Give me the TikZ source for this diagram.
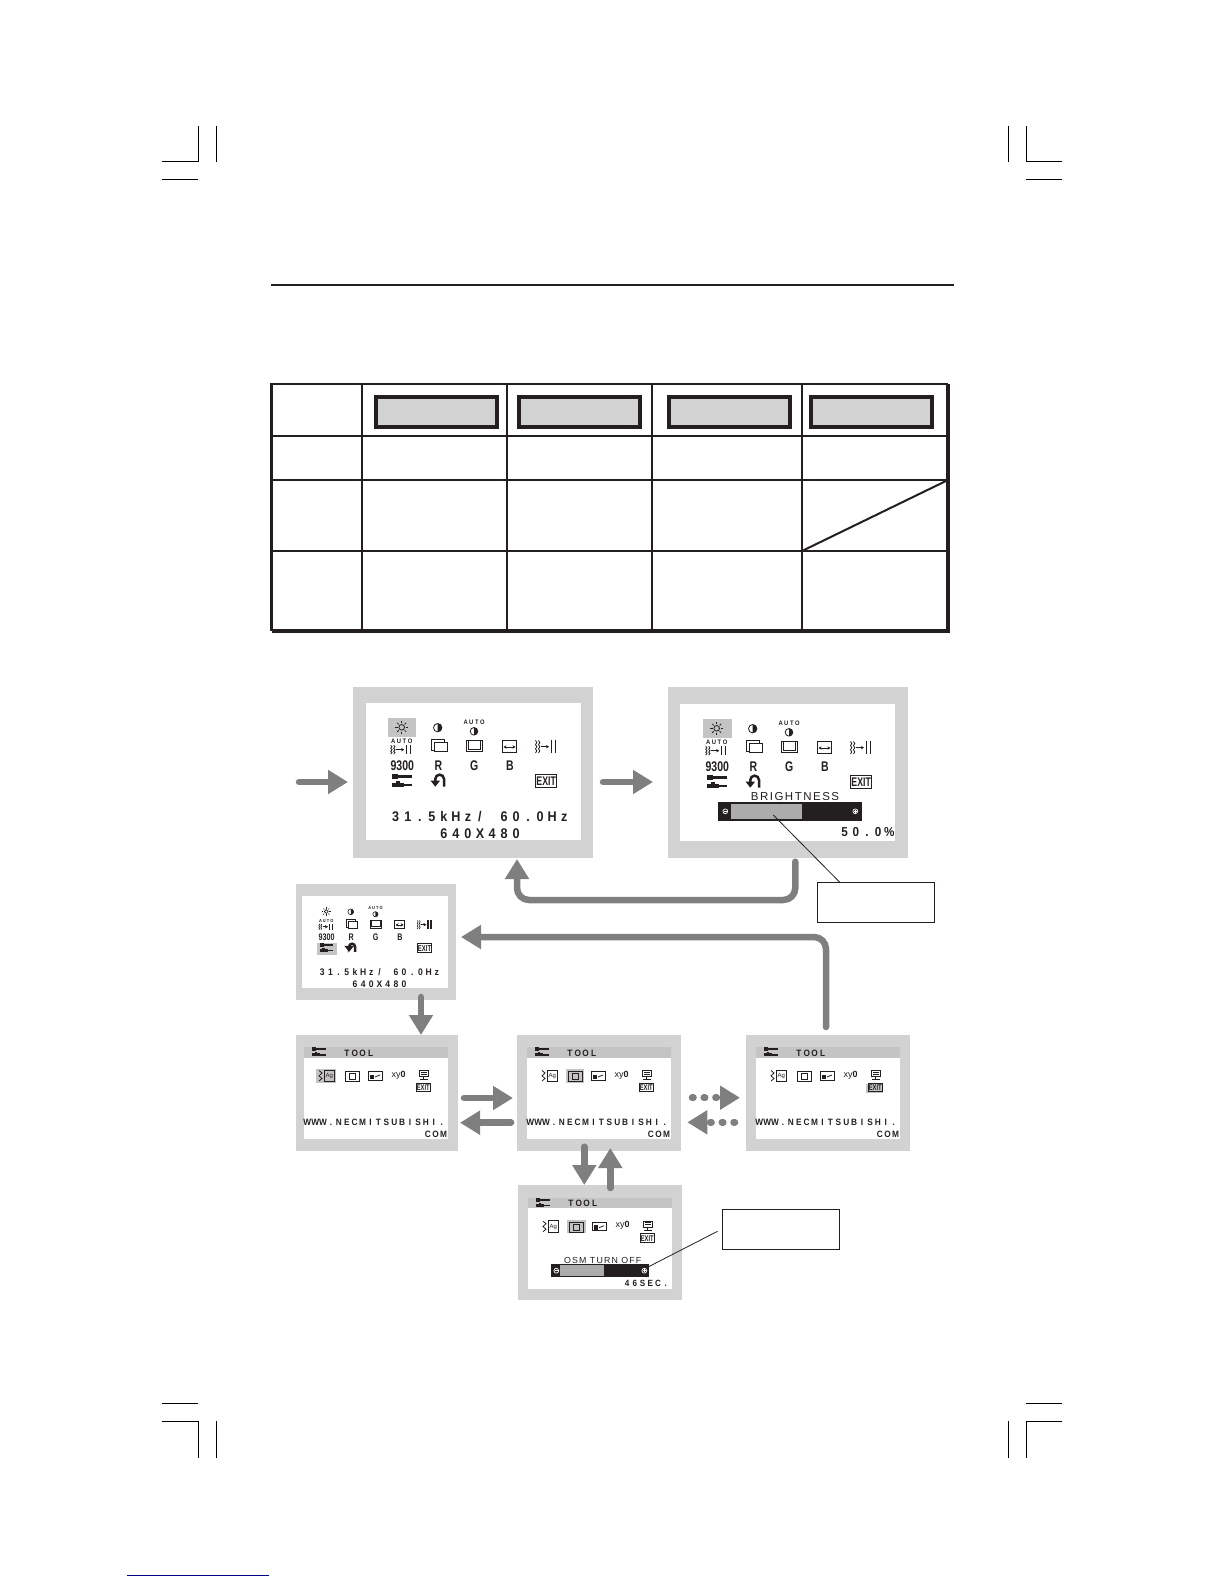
\documentclass[tikz,border=0pt]{standalone}
\usepackage{fontspec}
\usepackage{xcolor}
\usetikzlibrary{arrows.meta,positioning,calc}
\newfontfamily\osdfont[FakeStretch=.9]{Liberation Sans}
\newfontfamily\iconfont{Liberation Sans}
\newfontfamily\brightfont[LetterSpace=13]{Liberation Sans}
\definecolor{ink}{HTML}{231F20}
\definecolor{framegray}{HTML}{D2D2D2}
\definecolor{flowgray}{HTML}{7F7F7F}
\definecolor{hilite}{HTML}{C4C4C4}
\definecolor{barfill}{HTML}{ACACAC}
\definecolor{linkblue}{HTML}{00008B}

% the screen letters stand at a fixed pitch
\def\osdrun#1{\ifx#1\relax\else\makebox[.86em][c]{#1}\expandafter\osdrun\fi}
\newcommand{\osdpitch}[1]{\osdrun#1\relax}

% small drawings used on the screens
\newcommand{\sunicon}[2]{
	\draw[iconline] (#1,#2) circle (2.8pt);
	\foreach \a in {0,45,...,315}
		\draw[iconline] ([shift={(\a:4.2pt)}]#1,#2) -- ([shift={(\a:6.3pt)}]#1,#2);
}
\newcommand{\halfdisc}[3]{
	\draw[iconline] (#1,#2) circle (#3pt);
	\fill[ink] (#1,#2+#3) arc[start angle=-90,end angle=90,radius=#3pt] -- cycle;
}
\newcommand{\trackicon}[3]{
	\foreach \d in {-11,-8}
		\draw[iconline] (#1+\d,#2-#3) -- ++(1.3,#3/3) -- ++(-1.3,#3/3) -- ++(1.3,#3/3) -- ++(-1.3,#3/3) -- ++(1.3,#3/3) -- ++(-1.3,#3/3);
	\draw[iconline,-{Stealth[length=3pt,width=3.4pt]}] (#1-5.5,#2) -- (#1+2.5,#2);
	\draw[line width=1.4pt,ink] (#1+5,#2-#3) -- (#1+5,#2+#3);
	\draw[line width=1.4pt,ink] (#1+9,#2-#3) -- (#1+9,#2+#3);
}
\newcommand{\toolicon}[2]{
	\fill[ink] (#1-8,#2-5.6) rectangle (#1+10,#2-2.6);
	\fill[ink] (#1-9.5,#2-6.8) rectangle (#1-4,#2-1.4);
	\fill[ink] (#1-9.5,#2+2) rectangle (#1+2,#2+6);
	\fill[ink] (#1-6,#2) rectangle (#1-2,#2+2);
	\fill[ink] (#1+2,#2+3) rectangle (#1+10,#2+5);
}
\newcommand{\undoicon}[2]{
	\draw[line width=2.5pt,ink,-{Triangle[length=6pt,width=9pt]}] (#1+5.7,#2+6.5) -- (#1+5.7,#2-1) arc[start angle=0,end angle=180,radius=4.35pt] -- (#1-3,#2+6.7);
}
\newcommand{\exitbox}[3]{
	\node[exitmark] (#1) at (#2,#3) {EXIT};
}
\newcommand{\mainmenu}[1]{
	\sunicon{35.7}{24.3}
	\halfdisc{71.7}{24.7}{4.2}
	\node[autotext] (#1autoa) at (108,19.7) {\osdpitch{AUTO}};
	\halfdisc{108}{28.3}{3.8}
	\node[autotext] (#1autob) at (35.7,38.3) {\osdpitch{AUTO}};
	\trackicon{35.7}{46.7}{4.3}
	\draw[iconline] (65,36.3) rectangle (78,47);
	\draw[iconline,fill=white] (68,39) rectangle (81.3,48.7);
	\draw[iconline] (100,37) rectangle (116.7,48.7);
	\draw[iconline] (102,37) -- (102,46.5) -- (114.7,46.5) -- (114.7,37);
	\draw[iconline] (136.3,37.7) rectangle (150.7,49.3);
	\draw[iconline,{Stealth[length=3pt,width=3.4pt]}-{Stealth[length=3pt,width=3.4pt]}] (137.5,44) -- (149.5,44);
	\trackicon{180.5}{43.7}{6.3}
	\node[boldmark] (#1nine) at (36.3,62.7) {9300};
	\node[boldmark] (#1red) at (72.3,62.7) {R};
	\node[boldmark] (#1green) at (108.3,62.7) {G};
	\node[boldmark] (#1blue) at (144,62.7) {B};
	\toolicon{35.7}{77.7}
	\undoicon{72.3}{77}
	\exitbox{#1exit}{180.2}{78.2}
}
\newcommand{\freqrows}[1]{
	\node[osdbig] (#1freq) at (114,114) {\osdpitch{31.5kHz/~60.0Hz}};
	\node[osdbig] (#1res) at (114,131) {\osdpitch{640X480}};
}
\newcommand{\toolscreen}[1]{
	\fill[hilite] (0,0) rectangle (144,10.5);
	\begin{scope}[shift={(14.7,5)},scale=.7]
		\toolicon{0}{0}
	\end{scope}
	\node[osdsmall] (#1tool) at (54.7,6) {\osdpitch{TOOL}};
	\draw[iconline] (20.5,23) rectangle (30.3,34.7);
	\draw[iconline] (15,23.5) -- (18,26) -- (15,28.8) -- (18,31.5) -- (15,34);
	\node[tinytext] (#1ag) at (25.4,29) {Ag};
	\draw[iconline] (41,24.5) rectangle (55,34.5);
	\draw[iconline] (45,26.5) rectangle (51,32.5);
	\draw[iconline] (64,24.7) rectangle (78,33);
	\fill[ink] (66,27.5) rectangle (70,32);
	\draw[iconline] (71,30) -- (76,28);
	\node[xytext] (#1xy) at (94.7,28) {xy\textbf{0}};
	\draw[iconline] (115.5,23.5) rectangle (124,29.5);
	\draw[iconline] (117,25) -- (122.5,25) (117,27) -- (122.5,27);
	\draw[iconline] (119.8,29.5) -- (119.8,32) (116,32.5) -- (123.5,32.5);
	\begin{scope}[shift={(119.3,40.5)},scale=.66]
		\exitbox{#1exit}{0}{0}
	\end{scope}
}
\newcommand{\siteurl}[1]{
	\node[osdsmall] (#1url) at (70.5,75.7) {\osdpitch{WWW.NECMITSUBISHI.}};
	\node[osdsmall] (#1com) at (131.7,87.3) {\osdpitch{COM}};
}
\newcommand{\slidermark}[3]{
	\draw[white,line width=.7pt] (#1,#2) circle (2.4pt);
	\draw[white,line width=.6pt] (#1-1.4,#2) -- (#1+1.4,#2);
	\ifnum#3=1 \draw[white,line width=.6pt] (#1,#2-1.4) -- (#1,#2+1.4); \fi
}

\begin{document}
\begin{tikzpicture}[x=1pt,y=-1pt]
	\tikzstyle{every node} = [inner sep = 0, outer sep = 0, transform shape]
	\tikzstyle{osdframe} = [fill = framegray]
	\tikzstyle{osdscreen} = [fill = white, anchor = north west]
	\tikzstyle{iconline} = [line width = .8pt, draw = ink]
	\tikzstyle{osdbig} = [text = ink, font = \osdfont\bfseries\fontsize{14}{14}\selectfont]
	\tikzstyle{osdsmall} = [text = ink, font = \osdfont\bfseries\fontsize{9.2}{9.2}\selectfont]
	\tikzstyle{autotext} = [text = ink, font = \osdfont\bfseries\fontsize{6.5}{6.5}\selectfont]
	\tikzstyle{tinytext} = [text = ink, font = \iconfont\fontsize{6}{6}\selectfont]
	\tikzstyle{xytext} = [text = ink, font = \iconfont\fontsize{9}{9}\selectfont]
	\tikzstyle{boldmark} = [text = ink, xscale = .75, font = \iconfont\bfseries\fontsize{14}{14}\selectfont]
	\tikzstyle{exitmark} = [draw = ink, line width = .9pt, text = ink, xscale = .7, minimum width = 30pt, minimum height = 13pt, font = \iconfont\bfseries\fontsize{12.5}{12.5}\selectfont]
	\tikzstyle{headbox} = [draw = ink, line width = 4pt, fill = framegray, minimum width = 121pt, minimum height = 30pt]
	\tikzstyle{callout} = [draw = ink, line width = 1pt, fill = white, minimum width = 117pt, minimum height = 40pt]
	\tikzstyle{flow} = [draw = flowgray, line width = 6.5pt, line cap = round, -{Triangle[length = 20pt, width = 23pt]}]
	\tikzstyle{leader} = [draw = ink, line width = .8pt]
	\tikzstyle{crop} = [draw = black, line width = 1.2pt]
	\tikzstyle{tablerule} = [draw = ink, line width = 2pt]
	\useasboundingbox (0,0) rectangle (1224,1584);

	% crop marks
	\foreach \x/\w in {198.3/162,1026.3/1062} {
		\draw[crop] (\x,161.3) -- (\w,161.3);
		\draw[crop] (\w,179.3) -- (\x,179.3);
		\draw[crop] (\x,1403.3) -- (\w,1403.3);
		\draw[crop] (\x,1421.3) -- (\w,1421.3);
	}
	\foreach \x in {198.3,216.3,1008.3,1026.3} {
		\draw[crop] (\x,126) -- (\x,162);
		\draw[crop] (\x,1421) -- (\x,1458);
	}
	\draw[linkblue, line width = 1pt] (127,1575) -- (269,1575);

	% table
	\draw[ink, line width = 2pt] (271,285) -- (954,285);
	\foreach \y in {436,480,551} \draw[tablerule] (271,\y) -- (948,\y);
	\foreach \x in {362,507,652,802} \draw[tablerule] (\x,384) -- (\x,631);
	\draw[ink, line width = 2.6pt] (948,384) -- (271.5,384) -- (271.5,631);
	\draw[ink, line width = 3.4pt] (271.5,631) -- (948,631) -- (948,384);
	\draw[tablerule] (802,551) -- (948,480);
	\foreach \cx [count = \n] in {436.5,579.5,729,871}
		\node[headbox] (head\n) at (\cx,412) {};

	% the screens
	\node[osdframe, minimum width = 240pt, minimum height = 171pt] (mon1) at (473,772.5) {};
	\node[osdframe, minimum width = 240pt, minimum height = 171pt] (mon2) at (788,772.5) {};
	\node[osdframe, minimum width = 160pt, minimum height = 116pt] (mon3) at (376,942) {};
	\node[osdframe, minimum width = 162pt, minimum height = 116pt] (tool1) at (377,1093) {};
	\node[osdframe, minimum width = 164pt, minimum height = 116pt] (tool2) at (599,1093) {};
	\node[osdframe, minimum width = 164pt, minimum height = 116pt] (tool3) at (828,1093) {};
	\node[osdframe, minimum width = 164pt, minimum height = 115pt] (osm) at (600,1242.5) {};

	\node[osdscreen, minimum width = 215pt, minimum height = 137pt] (scr1) at (366,703) {};
	\node[osdscreen, minimum width = 215pt, minimum height = 137pt] (scr2) at (680,704) {};
	\node[osdscreen, minimum width = 146pt, minimum height = 92pt] (scr3) at (302,896) {};
	\node[osdscreen, minimum width = 144pt, minimum height = 92pt] (scr4) at (304,1047) {};
	\node[osdscreen, minimum width = 144pt, minimum height = 92pt] (scr5) at (527,1047) {};
	\node[osdscreen, minimum width = 144pt, minimum height = 92pt] (scr6) at (756,1047) {};
	\node[osdscreen, minimum width = 144pt, minimum height = 91pt] (scr7) at (528,1197.7) {};

	\begin{scope}[shift = {(366,703)}]
		\fill[hilite] (22,15) rectangle (50,34);
		\mainmenu{a}
		\freqrows{a}
	\end{scope}
	\begin{scope}[shift = {(681,704)}]
		\fill[hilite] (22,15) rectangle (51,34);
		\mainmenu{b}
	\end{scope}
	\node[text = ink, font = \brightfont\fontsize{11.5}{12}\selectfont] (brightlabel) at (795,797) {BRIGHTNESS};
	\node[fill = ink, minimum width = 143.7pt, minimum height = 18.4pt] (brightbar) at (789.9,811.5) {};
	\node[fill = barfill, minimum width = 71pt, minimum height = 14.7pt] (brightfill) at (766.5,811.6) {};
	\slidermark{725.3}{811.3}{0}
	\slidermark{855.3}{811.3}{1}
	\node[osdbig, font = \osdfont\bfseries\fontsize{13}{13}\selectfont] (brightvalue) at (867,832) {\osdpitch{50.0\%}};

	\begin{scope}[shift = {(302,895)}, scale = .68]
		\tikzstyle{iconline} = [line width = .6pt, draw = ink]
		\fill[hilite] (22.5,70) rectangle (51,88);
		\mainmenu{c}
		\freqrows{c}
	\end{scope}

	\begin{scope}[shift = {(304,1047)}]
		\fill[hilite] (12,21.5) rectangle (31.5,36);
		\toolscreen{d}
		\siteurl{d}
	\end{scope}
	\begin{scope}[shift = {(527,1047)}]
		\fill[hilite] (38.7,22) rectangle (57,35.5);
		\toolscreen{e}
		\siteurl{e}
	\end{scope}
	\begin{scope}[shift = {(756,1047)}]
		\fill[hilite] (109.7,37) rectangle (127,46);
		\toolscreen{f}
		\siteurl{f}
	\end{scope}
	\begin{scope}[shift = {(528,1197.7)}]
		\fill[hilite] (39,22) rectangle (57.5,35.5);
		\toolscreen{g}
		\node[text = ink, font = \brightfont\fontsize{8.8}{9}\selectfont] (osmlabel) at (74.7,62.3) {OSM TURN OFF};
		\node[fill = ink, minimum width = 98pt, minimum height = 12.4pt] (osmbar) at (72,72.8) {};
		\node[fill = barfill, minimum width = 44pt, minimum height = 10.4pt] (osmfill) at (54,72.8) {};
		\slidermark{28.3}{73}{0}
		\slidermark{116.3}{73}{1}
		\node[osdsmall, font = \osdfont\bfseries\fontsize{9}{9}\selectfont] (osmtime) at (118.5,85.6) {\osdpitch{46SEC.}};
	\end{scope}

	% callouts
	\node[callout] (callout1) at (875.5,902.5) {};
	\node[callout] (callout2) at (780.5,1229) {};
	\coordinate (brightpoint) at (773.3,815);
	\draw[leader] (brightpoint) -- ([xshift = 23pt]callout1.north west);
	\draw[leader, shorten <= 5pt] (callout2.west) -- ([yshift = 4pt]osmbar.east);

	% arrows
	\coordinate (entry) at (299,782);
	\draw[flow] (entry) -- ([xshift = -5pt, yshift = -9.5pt]mon1.west);
	\draw[flow] ([xshift = 10pt, yshift = -9.5pt]mon1.east) -- ([xshift = -15pt, yshift = -9.5pt]mon2.west);
	\draw[flow, rounded corners = 12pt] ([xshift = 7.3pt, yshift = -3.7pt]mon2.south) -- ++(0,38.3) -| ([xshift = 44pt, yshift = -1pt]mon1.south);
	\draw[flow, rounded corners = 12pt] ([xshift = -2pt, yshift = 8pt]tool3.north) |- ([xshift = 5pt, yshift = 5pt]mon3.east);
	\draw[flow] ([xshift = 45pt, yshift = 3pt]mon3.south) -- ([xshift = 44pt]tool1.north);
	\draw[flow] ([xshift = 6pt, yshift = -5pt]tool1.east) -- ([xshift = -4pt, yshift = -5pt]tool2.west);
	\draw[flow] ([xshift = -6pt, yshift = -29.7pt]tool2.west) -- ([xshift = 2pt, yshift = -29.7pt]tool1.east);
	\draw[flow, dash pattern = on 1.5pt off 10.2pt] ([xshift = 11pt, yshift = -4.7pt]tool2.east) -- ([xshift = -6pt, yshift = -4.7pt]tool3.west);
	\draw[flow, dash pattern = on 1.5pt off 10.2pt] ([xshift = -11pt, yshift = -29.3pt]tool3.west) -- ([xshift = 6.3pt, yshift = -29.3pt]tool2.east);
	\draw[flow] ([xshift = -14.7pt, yshift = 4.3pt]tool2.south) -- ([xshift = -15.7pt]osm.north);
	\draw[flow] ([xshift = 10.3pt, yshift = -3pt]osm.north) -- ([xshift = 11.3pt, yshift = 3pt]tool2.south);
\end{tikzpicture}
\end{document}
